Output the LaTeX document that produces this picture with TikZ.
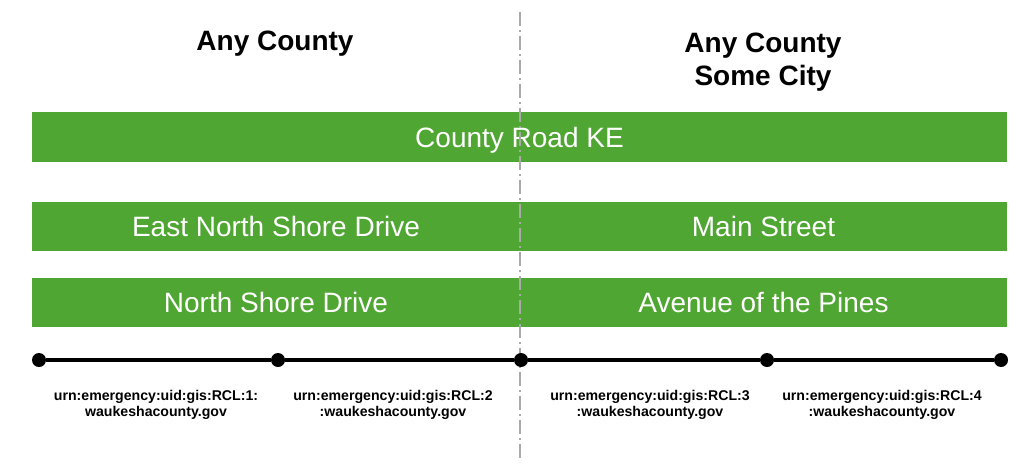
\documentclass[tikz,border=0pt]{standalone}
\usepackage{fontspec}
\setmainfont{Liberation Sans}
\definecolor{roadgreen}{RGB}{80,166,50}
\definecolor{divgray}{RGB}{170,170,170}
\begin{document}
\begin{tikzpicture}[x=0.75pt,y=-0.75pt,
  bar/.style={fill=roadgreen,draw=none,inner sep=0pt,text=white,text depth=0pt,font=\fontsize{21}{25}\selectfont},
  title/.style={font=\bfseries\fontsize{21}{25}\selectfont,align=center,inner sep=0pt},
  urn/.style={font=\bfseries\fontsize{10.6}{12.4}\selectfont,align=center,inner sep=0pt},
  dotnode/.style={circle,fill=black,inner sep=0pt,minimum size=10.5pt},
  divider/.style={draw=divgray,line width=1.6pt,dash pattern=on 10.5pt off 3pt on 1.5pt off 3pt}]
\useasboundingbox (0,0) rectangle (1024,464);
% titles
\node[title] (t1) at (275,44) {Any County};
\node[title] (t2) at (763,62) {Any County\\Some City};
% bars
\node[bar,minimum width=731.25pt,minimum height=37.5pt] (b1) at (519.5,137) {County Road KE};
\node[bar,minimum width=366pt,minimum height=36.75pt] (b2l) at (276,226.5) {East North Shore Drive};
\node[bar,minimum width=365.25pt,minimum height=36.75pt] (b2r) at (763.5,226.5) {Main Street};
\node[bar,minimum width=366pt,minimum height=36.75pt] (b3l) at (276,302.5) {North Shore Drive};
\node[bar,minimum width=365.25pt,minimum height=36.75pt] (b3r) at (763.5,302.5) {Avenue of the Pines};
% divider
\coordinate (dtop) at (520,12);
\coordinate (dbot) at (520,462);
\draw[divider] (dtop) -- (dbot);
% segments line
\node[dotnode] (p1) at (39,360) {};
\node[dotnode] (p2) at (278,360) {};
\node[dotnode] (p3) at (521,360) {};
\node[dotnode] (p4) at (767,360) {};
\node[dotnode] (p5) at (1001,360) {};
\draw[line width=3pt] (p1) -- (p2) -- (p3) -- (p4) -- (p5);
% labels
\node[urn] (u1) at (156,405) {urn:emergency:uid:gis:RCL:1:\\waukeshacounty.gov};
\node[urn] (u2) at (393,405) {urn:emergency:uid:gis:RCL:2\\:waukeshacounty.gov};
\node[urn] (u3) at (650,405) {urn:emergency:uid:gis:RCL:3\\:waukeshacounty.gov};
\node[urn] (u4) at (882,405) {urn:emergency:uid:gis:RCL:4\\:waukeshacounty.gov};
\end{tikzpicture}
\end{document}
